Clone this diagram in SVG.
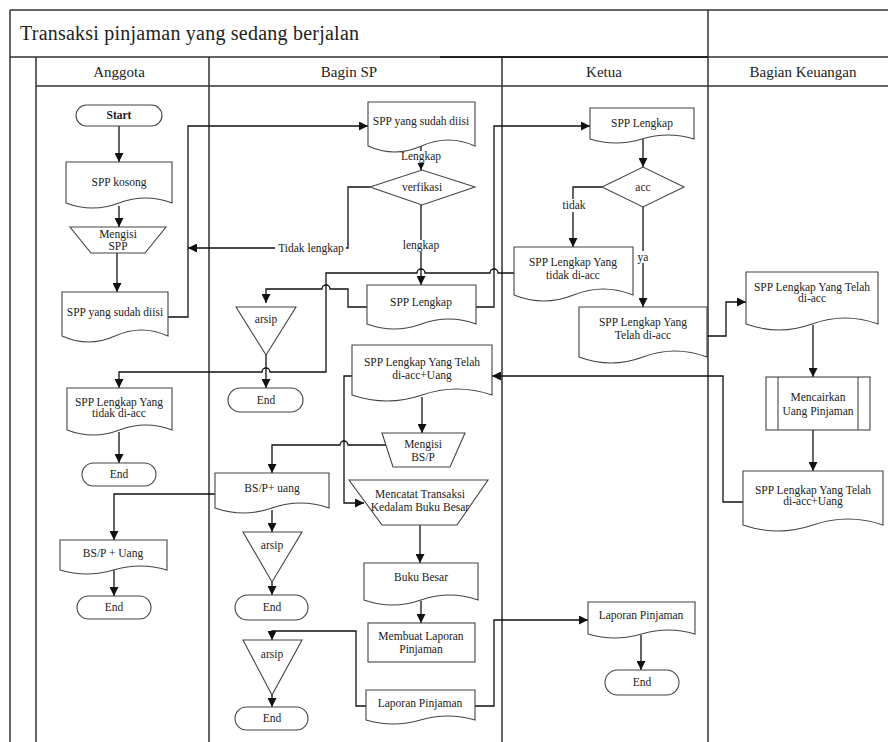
<svg xmlns="http://www.w3.org/2000/svg" width="888" height="742" viewBox="0 0 888 742">
<style>
.frame{stroke:#333;stroke-width:1.5;fill:none}
.doc,.shp{fill:#fff;stroke:#444;stroke-width:1.1}
.term{fill:#fff;stroke:#444;stroke-width:1.1}
.t{font-family:"Liberation Serif","Times New Roman","DejaVu Serif",serif;font-size:11.5px;fill:#222;text-anchor:middle}
.h{font-family:"Liberation Serif","Times New Roman","DejaVu Serif",serif;font-size:15px;fill:#222;text-anchor:middle}
.ttl{font-family:"Liberation Serif","Times New Roman","DejaVu Serif",serif;font-size:20px;fill:#222}
.c{fill:none;stroke:#111;stroke-width:1.3}
.lb{fill:#fff}
</style>
<defs>
<marker id="ah" viewBox="0 0 10 10" refX="10" refY="5" markerWidth="9" markerHeight="9" markerUnits="userSpaceOnUse" orient="auto"><path d="M0,0 L10,5 L0,10 z" fill="#111"/></marker>
</defs>
<rect width="888" height="742" fill="#fff"/>
<g id="frame">
<path class="frame" d="M10 10 H888 M10 10 V742 M708 10 V742 M10 57 H888 M36 86 H888 M36 57 V742 M209 57 V742 M502 57 V742"/>
<path stroke="#222" stroke-width="2.2" d="M440 57 H708"/>
<text class="ttl" x="20" y="40" textLength="339">Transaksi pinjaman yang sedang berjalan</text>
<text class="h" x="119" y="77">Anggota</text>
<text class="h" x="349" y="77">Bagin SP</text>
<text class="h" x="604" y="77">Ketua</text>
<text class="h" x="803" y="77">Bagian Keuangan</text>
</g>
<g id="connectors">
<path class="c" marker-end="url(#ah)" d="M119 126 V162"/>
<path class="c" marker-end="url(#ah)" d="M119 206 V227"/>
<path class="c" marker-end="url(#ah)" d="M117 253 V292"/>
<path class="c" marker-end="url(#ah)" d="M168 317 H188 V126 H368"/>
<path class="c" marker-end="url(#ah)" d="M370 187 H348 V248 H188"/>
<path class="c" marker-end="url(#ah)" d="M421 146 V170"/>
<path class="c" marker-end="url(#ah)" d="M421 205 V285"/>
<path class="c" marker-end="url(#ah)" d="M367 307 H348 V289 H330 A4 4 0 0 0 322 289 H266 V303"/>
<path class="c" marker-end="url(#ah)" d="M476 307 H494 V126 H590"/>
<path class="c" marker-end="url(#ah)" d="M514 273 H498 A4 4 0 0 0 490 273 H425 A4 4 0 0 0 417 273 H326 V372 H270 A4 4 0 0 0 262 372 H119 V388"/>
<path class="c" marker-end="url(#ah)" d="M266 355 V388"/>
<path class="c" marker-end="url(#ah)" d="M743 502 H723 V376 H492"/>
<path class="c" marker-end="url(#ah)" d="M352 376 H344 V503 H364"/>
<path class="c" marker-end="url(#ah)" d="M422 397 V433"/>
<path class="c" marker-end="url(#ah)" d="M386 445 H348 A4 4 0 0 0 340 445 H272 V473"/>
<path class="c" marker-end="url(#ah)" d="M215 494 H114 V540"/>
<path class="c" marker-end="url(#ah)" d="M272 510 V532"/>
<path class="c" marker-end="url(#ah)" d="M272 582 V595"/>
<path class="c" marker-end="url(#ah)" d="M420 525 V563"/>
<path class="c" marker-end="url(#ah)" d="M421 601 V623"/>
<path class="c" marker-end="url(#ah)" d="M366 706 H356 V631 H272 V640"/>
<path class="c" marker-end="url(#ah)" d="M272 695 V707"/>
<path class="c" marker-end="url(#ah)" d="M475 706 H494 V620 H588"/>
<path class="c" marker-end="url(#ah)" d="M643 139 V167"/>
<path class="c" marker-end="url(#ah)" d="M602 187 H573 V247"/>
<path class="c" marker-end="url(#ah)" d="M643 207 V307"/>
<path class="c" marker-end="url(#ah)" d="M707 336 H726 V302 H746"/>
<path class="c" marker-end="url(#ah)" d="M813 325 V377"/>
<path class="c" marker-end="url(#ah)" d="M813 430 V471"/>
<path class="c" marker-end="url(#ah)" d="M641 635 V670"/>
<path class="c" marker-end="url(#ah)" d="M119 432 V463"/>
<path class="c" marker-end="url(#ah)" d="M114 570 V596"/>
<rect class="lb" x="400" y="151" width="42" height="12"/>
<text class="t" x="421" y="160">Lengkap</text>
<rect class="lb" x="401" y="240" width="40" height="12"/>
<text class="t" x="421" y="249">lengkap</text>
<rect class="lb" x="275" y="242" width="71" height="13"/>
<text class="t" x="311" y="252">Tidak lengkap</text>
<rect class="lb" x="561" y="199" width="26" height="13"/>
<text class="t" x="574" y="209">tidak</text>
<rect class="lb" x="636" y="251" width="14" height="12"/>
<text class="t" x="643" y="261">ya</text>
</g>
<g id="start"><rect class="term" x="76" y="105" width="86" height="21" rx="10.5"/><text class="t" x="119" y="119" font-weight="bold" font-size="10">Start</text></g>
<g id="spp-kosong"><path class="doc" d="M66 162 H172 V203 Q145.5 193 119 203 T66 203 Z"/><text class="t" x="119" y="186">SPP kosong</text></g>
<g id="mengisi-spp"><polygon class="shp" points="70,227 166,227 145,253 91,253"/><text class="t" x="118" y="238">Mengisi</text><text class="t" x="118" y="250">SPP</text></g>
<g id="spp-diisi-a"><path class="doc" d="M62 292 H168 V336 Q141.5 324 115 336 T62 336 Z"/><text class="t" x="115" y="316">SPP yang sudah diisi</text></g>
<g id="spp-tidak-acc-a"><path class="doc" d="M67 388 H172 V430 Q145.75 420 119.5 430 T67 430 Z"/><text class="t" x="119" y="406">SPP Lengkap Yang</text><text class="t" x="119" y="417">tidak di-acc</text></g>
<g id="end-a1"><rect class="term" x="82" y="463" width="74" height="23" rx="11.5"/><text class="t" x="119" y="478">End</text></g>
<g id="bsp-uang-a"><path class="doc" d="M60 540 H167 V570 Q140.25 562 113.5 570 T60 570 Z"/><text class="t" x="113" y="557">BS/P + Uang</text></g>
<g id="end-a2"><rect class="term" x="77" y="596" width="74" height="23" rx="11.5"/><text class="t" x="114" y="611">End</text></g>
<g id="spp-diisi-sp"><path class="doc" d="M368 102 H475 V146 Q448.25 134 421.5 146 T368 146 Z"/><text class="t" x="421" y="125">SPP yang sudah diisi</text></g>
<g id="verfikasi"><polygon class="shp" points="370,187 422,170 475,187 422,205"/><text class="t" x="422" y="191">verfikasi</text></g>
<g id="spp-lengkap-sp"><path class="doc" d="M367 285 H476 V324 Q448.75 314 421.5 324 T367 324 Z"/><text class="t" x="421" y="306">SPP Lengkap</text></g>
<g id="arsip1"><polygon class="shp" points="236,307 296,307 266,355"/><text class="t" x="266" y="323">arsip</text></g>
<g id="end-sp1"><rect class="term" x="228" y="388" width="75" height="24" rx="12"/><text class="t" x="266" y="404">End</text></g>
<g id="spp-uang-sp"><path class="doc" d="M352 345 H492 V395 Q457 383 422 395 T352 395 Z"/><text class="t" x="422" y="366">SPP Lengkap Yang Telah</text><text class="t" x="422" y="379">di-acc+Uang</text></g>
<g id="mengisi-bsp"><polygon class="shp" points="382,433 465,433 450,467 393,467"/><text class="t" x="423" y="448">Mengisi</text><text class="t" x="423" y="461">BS/P</text></g>
<g id="bsp-uang-sp"><path class="doc" d="M215 473 H329 V508 Q300.5 498 272 508 T215 508 Z"/><text class="t" x="272" y="492">BS/P+ uang</text></g>
<g id="arsip2"><polygon class="shp" points="243,532 302,532 272,582"/><text class="t" x="272" y="549">arsip</text></g>
<g id="end-sp2"><rect class="term" x="235" y="595" width="73" height="25" rx="12.5"/><text class="t" x="272" y="611">End</text></g>
<g id="mencatat"><polygon class="shp" points="349,480 488,480 457,525 382,525"/><text class="t" x="420" y="498">Mencatat Transaksi</text><text class="t" x="420" y="511">Kedalam Buku Besar</text></g>
<g id="buku-besar"><path class="doc" d="M364 563 H478 V600 Q449.5 590 421 600 T364 600 Z"/><text class="t" x="421" y="581">Buku Besar</text></g>
<g id="membuat-laporan"><rect class="shp" x="368" y="623" width="107" height="39"/><text class="t" x="421" y="640">Membuat Laporan</text><text class="t" x="421" y="653">Pinjaman</text></g>
<g id="arsip3"><polygon class="shp" points="243,640 302,640 272,695"/><text class="t" x="272" y="658">arsip</text></g>
<g id="end-sp3"><rect class="term" x="235" y="707" width="73" height="23" rx="11.5"/><text class="t" x="272" y="722">End</text></g>
<g id="laporan-sp"><path class="doc" d="M366 690 H475 V720 Q447.75 712 420.5 720 T366 720 Z"/><text class="t" x="420" y="707">Laporan Pinjaman</text></g>
<g id="spp-lengkap-k"><path class="doc" d="M590 108 H694 V139 Q668 131 642 139 T590 139 Z"/><text class="t" x="642" y="127">SPP Lengkap</text></g>
<g id="acc"><polygon class="shp" points="602,187 643,167 684,187 643,207"/><text class="t" x="643" y="191">acc</text></g>
<g id="spp-tidak-acc-k"><path class="doc" d="M514 247 H633 V295 Q603.25 283 573.5 295 T514 295 Z"/><text class="t" x="573" y="266">SPP Lengkap Yang</text><text class="t" x="573" y="279">tidak di-acc</text></g>
<g id="spp-telah-acc-k"><path class="doc" d="M579 307 H707 V357 Q675 345 643 357 T579 357 Z"/><text class="t" x="643" y="326">SPP Lengkap Yang</text><text class="t" x="643" y="339">Telah di-acc</text></g>
<g id="laporan-k"><path class="doc" d="M588 602 H695 V634 Q668.25 626 641.5 634 T588 634 Z"/><text class="t" x="641" y="619">Laporan Pinjaman</text></g>
<g id="end-k"><rect class="term" x="605" y="670" width="74" height="25" rx="12.5"/><text class="t" x="642" y="686">End</text></g>
<g id="spp-telah-acc-ku"><path class="doc" d="M746 272 H878 V324 Q845 312 812 324 T746 324 Z"/><text class="t" x="812" y="291">SPP Lengkap Yang Telah</text><text class="t" x="812" y="302">di-acc</text></g>
<g id="mencairkan"><rect class="shp" x="766" y="377" width="104" height="53"/><path class="shp" d="M778 377 V430 M858 377 V430"/><text class="t" x="818" y="401">Mencairkan</text><text class="t" x="818" y="415">Uang Pinjaman</text></g>
<g id="spp-uang-ku"><path class="doc" d="M743 471 H883 V525 Q848 513 813 525 T743 525 Z"/><text class="t" x="813" y="494">SPP Lengkap Yang Telah</text><text class="t" x="813" y="505">di-acc+Uang</text></g>
</svg>
